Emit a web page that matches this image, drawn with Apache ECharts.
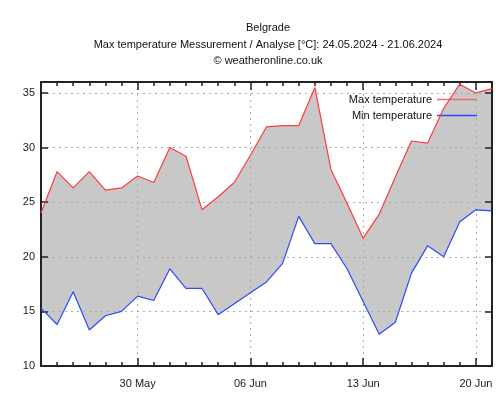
<!DOCTYPE html>
<html><head><meta charset="utf-8">
<script src="https://cdn.jsdelivr.net/npm/echarts@6/dist/echarts.min.js"></script>
<style>html,body{margin:0;padding:0;background:#fff}#c{width:500px;height:400px}</style>
</head><body><div id="c"></div>
<script>
const dates = ['24 May','25 May','26 May','27 May','28 May','29 May','30 May','31 May',
  '01 Jun','02 Jun','03 Jun','04 Jun','05 Jun','06 Jun','07 Jun','08 Jun','09 Jun','10 Jun',
  '11 Jun','12 Jun','13 Jun','14 Jun','15 Jun','16 Jun','17 Jun','18 Jun','19 Jun','20 Jun','21 Jun'];
const maxTemp = [24.0, 27.8, 26.3, 27.8, 26.1, 26.3, 27.4, 26.8, 30.0, 29.2, 24.3, 25.5, 26.8, 29.3,
  31.9, 32.0, 32.0, 35.5, 28.0, 24.9, 21.7, 23.9, 27.3, 30.6, 30.4, 33.6, 35.8, 35.0, 35.4];
const minTemp = [15.3, 13.8, 16.8, 13.3, 14.6, 15.0, 16.4, 16.0, 18.9, 17.1, 17.1, 14.7, 15.7, 16.7,
  17.7, 19.4, 23.7, 21.2, 21.2, 18.9, 15.9, 12.9, 14.0, 18.5, 21.0, 20.0, 23.2, 24.3, 24.2];
const tickLabels = ['30 May','06 Jun','13 Jun','20 Jun'];
const yTicks = [10, 15, 20, 25, 30, 35];

const FONT = 'Liberation Sans';
const FS = 11;
const isLabeled = (i) => tickLabels.includes(dates[i]);
const band = maxTemp.map((v, i) => +(v - minTemp[i]).toFixed(2));

function xAx(pos, long, showLabel, showSplit) {
  return {
    type: 'category', data: dates, boundaryGap: false, position: pos, z: 3,
    axisLine: { show: !long, lineStyle: { color: '#222', width: 2 } },
    axisTick: { show: true, inside: true, length: long ? 8 : 4,
      interval: long ? ((i) => isLabeled(i)) : 0, lineStyle: { color: '#222', width: 1.5 } },
    axisLabel: { show: showLabel, interval: (i) => isLabeled(i), color: '#222',
      fontFamily: FONT, fontSize: FS, margin: 12 },
    splitLine: { show: showSplit, interval: (i) => isLabeled(i) && i > 0,
      lineStyle: { color: '#aaa', type: [2, 4], width: 1 } }
  };
}
function yAx(pos, showLabel, showSplit) {
  return {
    type: 'value', min: 10, max: 36, interval: 5, position: pos, z: 3,
    axisLine: { show: true, lineStyle: { color: '#222', width: 2 } },
    axisTick: { show: true, inside: true, length: 7, lineStyle: { color: '#222', width: 1.5 } },
    axisLabel: { show: showLabel, showMaxLabel: false, color: '#222', fontFamily: FONT, fontSize: FS, margin: 6,
      formatter: (v) => yTicks.includes(v) ? String(v) : '' },
    splitLine: { show: showSplit, lineStyle: { color: '#aaa', type: [2, 4], width: 1 } }
  };
}

const tStyle = { fontFamily: FONT, fontSize: FS, fontWeight: 'normal', color: '#111' };
const chart = echarts.init(document.getElementById('c'), null, { renderer: 'canvas' });
chart.setOption({
  animation: false,
  backgroundColor: '#fff',
  title: [
    { text: 'Belgrade', left: 263, top: 17, textAlign: 'center', textStyle: tStyle },
    { text: 'Max temperature Messurement / Analyse [°C]: 24.05.2024 - 21.06.2024', left: 263, top: 34, textAlign: 'center', textStyle: tStyle },
    { text: '© weatheronline.co.uk', left: 263, top: 50, textAlign: 'center', textStyle: tStyle }
  ],
  legend: {
    data: [{ name: 'Max temperature', icon: 'rect', itemStyle: { color: '#f46a6a' } },
           { name: 'Min temperature', icon: 'rect', itemStyle: { color: '#2a4bff' } }],
    orient: 'vertical', right: 18, top: 89,
    align: 'right', itemWidth: 40, itemHeight: 1.5, itemGap: 5,
    textStyle: { fontFamily: FONT, fontSize: FS, color: '#111', padding: [0, 0, 0, 0] }
  },
  grid: { left: 41, right: 8, top: 82, bottom: 34 },
  xAxis: [xAx('bottom', false, true, true), xAx('bottom', true, false, false),
          xAx('top', false, false, false), xAx('top', true, false, false)],
  yAxis: [yAx('left', true, true), yAx('right', false, false)],
  series: [
    { name: 'base', type: 'line', stack: 'b', data: minTemp, symbol: 'none', silent: true,
      lineStyle: { opacity: 0 }, z: 1 },
    { name: 'range', type: 'line', stack: 'b', data: band, symbol: 'none', silent: true,
      lineStyle: { opacity: 0 }, areaStyle: { color: '#c8c8c8', opacity: 1 }, z: 1 },
    { name: 'Max temperature', type: 'line', data: maxTemp, symbol: 'none', z: 5,
      lineStyle: { color: '#ff3b3b', width: 1.2 }, itemStyle: { color: '#ff3b3b' } },
    { name: 'Min temperature', type: 'line', data: minTemp, symbol: 'none', z: 5,
      lineStyle: { color: '#2a4bff', width: 1.2 }, itemStyle: { color: '#2a4bff' } }
  ]
});
</script></body></html>
